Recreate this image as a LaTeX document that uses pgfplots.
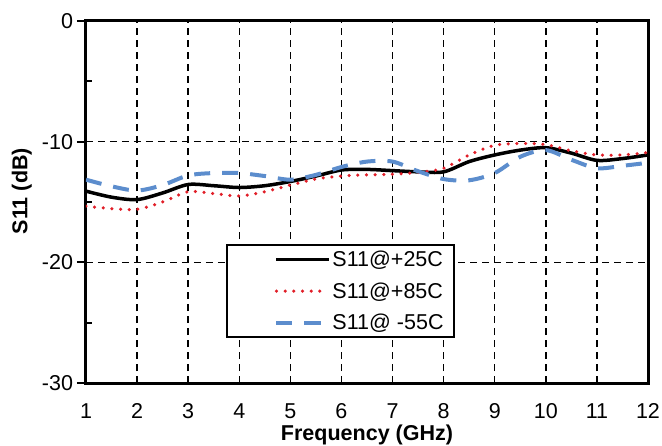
\documentclass[border=0pt]{standalone}
\usepackage{pgfplots}
\pgfplotsset{compat=1.18}
\usepackage{fontspec}
\setmainfont{Liberation Sans}
\definecolor{cred}{RGB}{225,30,40}
\definecolor{cblue}{RGB}{92,141,205}
\newcommand{\fs}{\fontsize{21.5}{25}\selectfont}
\begin{document}
\begin{tikzpicture}
\useasboundingbox (-86pt,-62pt) rectangle (576pt,383pt);
\begin{axis}[
  scale only axis,
  width=562pt, height=362pt,
  xmin=1, xmax=12, ymin=-30, ymax=0,
  xtick={1,2,3,4,5,6,7,8,9,10,11,12},
  xticklabels={1,2,3,4,5,6,7,8,9,10,11,12},
  ytick={-30,-20,-10,0},
  yticklabels={-30,-20,-10,0},
  extra y ticks={-25,-15,-5},
  extra y tick labels={},
  extra y tick style={tick align=inside, major tick length=6pt, grid=none},
  xtick style={draw=none},
  ytick pos=left,
  ytick align=outside,
  major tick length=9pt,
  ytick style={line width=2pt, black},
  axis line style={line width=3pt, black},
  grid=major,
  major grid style={black, line width=1.5pt, dash pattern=on 7pt off 5pt},
  tick label style={font=\fs},
  xticklabel style={anchor=base, yshift=-35.5pt, inner sep=1pt},
  yticklabel style={anchor=east, xshift=-0.5pt},
  xlabel={Frequency (GHz)},
  ylabel={S11 (dB)},
  every axis x label/.style={at={(axis description cs:0.5,-0.144)}, anchor=center, inner sep=1pt, font=\fs\bfseries},
  every axis y label/.style={at={(axis description cs:-0.114,0.53)}, anchor=center, rotate=90, font=\fs\bfseries},
  legend style={at={(axis description cs:0.25,0.384)}, anchor=north west, draw=black, line width=2pt, fill=white, font=\fs, row sep=10.5pt, inner xsep=8pt, inner ysep=4pt},
  legend cell align=left,
  legend image code/.code={\path (-39pt,0pt); \draw[#1] (0pt,0pt) -- (52pt,0pt);},
]
\addplot[black, line width=3.5pt, smooth] coordinates {
(1,-14.1) (1.5,-14.6) (2,-14.8) (2.5,-14.25) (3,-13.55) (3.5,-13.65) (4,-13.8) (4.5,-13.65) (5,-13.3) (5.5,-12.85) (6,-12.35) (6.5,-12.3) (7,-12.4) (7.5,-12.5) (8,-12.5) (8.5,-11.65) (9,-11.1) (9.5,-10.7) (10,-10.5) (10.5,-10.95) (11,-11.55) (11.5,-11.4) (12,-11.1)
};
\addlegendentry{S11@+25C}
\addplot[cred, line width=3.5pt, line cap=round, dash pattern=on 0pt off 8.67pt, smooth] coordinates {
(1,-15.35) (1.5,-15.55) (2,-15.6) (2.5,-15.0) (3,-14.15) (3.5,-14.3) (4,-14.5) (4.5,-14.15) (5,-13.6) (5.5,-13.1) (6,-12.85) (6.5,-12.75) (7,-12.7) (7.5,-12.55) (8,-12.2) (8.5,-11.1) (9,-10.3) (9.5,-10.15) (10,-10.25) (10.5,-10.75) (11,-11.1) (11.5,-11.1) (12,-10.9)
};
\addlegendentry{S11@+85C}
\addplot[cblue, line width=4pt, dash pattern=on 16pt off 12pt, smooth] coordinates {
(1,-13.15) (1.5,-13.7) (2,-14.05) (2.5,-13.6) (3,-12.8) (3.5,-12.6) (4,-12.6) (4.5,-12.85) (5,-13.15) (5.5,-12.75) (6,-12.1) (6.5,-11.65) (7,-11.65) (7.5,-12.45) (8,-13.1) (8.5,-13.2) (9,-12.6) (9.5,-11.25) (10,-10.7) (10.5,-11.5) (11,-12.2) (11.5,-12.0) (12,-11.75)
};
\addlegendentry{S11@ -55C}
\end{axis}
\end{tikzpicture}
\end{document}
